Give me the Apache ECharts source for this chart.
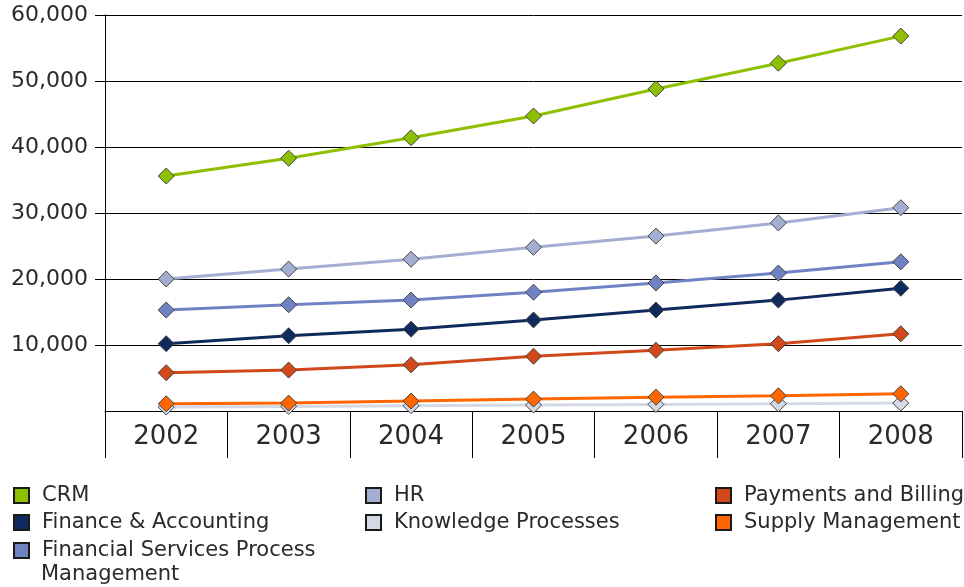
<!DOCTYPE html>
<html><head><meta charset="utf-8">
<script src="https://cdn.jsdelivr.net/npm/echarts@6/dist/echarts.min.js"></script>
<style>html,body{margin:0;padding:0;background:#fff}#c{width:964px;height:587px}</style>
</head><body><div id="c"></div>
<script>
const years = ['2002','2003','2004','2005','2006','2007','2008'];
const yTicks = [0,10000,20000,30000,40000,50000,60000];
const crm = [35600,38300,41400,44700,48800,52700,56800];
const finance = [10200,11400,12400,13800,15300,16800,18600];
const fspm = [15300,16100,16800,18000,19400,20900,22600];
const hr = [20000,21500,23000,24800,26500,28500,30800];
const knowledge = [600,700,800,900,1000,1100,1200];
const payments = [5800,6200,7000,8300,9200,10200,11700];
const supply = [1100,1200,1500,1800,2100,2300,2600];

const seriesDefs = [
  ['CRM', crm, '#8dc000'],
  ['Finance & Accounting', finance, '#0f2a5c'],
  ['Financial Services Process Management', fspm, '#6f83c4'],
  ['HR', hr, '#a4aed2'],
  ['Knowledge Processes', knowledge, '#d4d9e6'],
  ['Payments and Billing', payments, '#d1481a'],
  ['Supply Management', supply, '#ff6600']
];
const font = 'DejaVu Sans';
const txtColor = '#2a2a2a';
const chart = echarts.init(document.getElementById('c'), null, {renderer:'canvas'});
const legendBase = {
  orient:'vertical', icon:'rect', itemWidth:15, itemHeight:15, itemGap:0, padding:0,
  itemStyle:{borderColor:'#1a1a1a', borderWidth:2},
  textStyle:{fontFamily:font, fontSize:21, color:txtColor, lineHeight:27, padding:[0,0,0,8]},
  selectedMode:false
};
chart.setOption({
  animation:false,
  backgroundColor:'#fff',
  grid:{left:105, right:2, top:15, bottom:176},
  xAxis:{type:'category', data:years, boundaryGap:true,
    axisLine:{lineStyle:{color:'#000', width:1}},
    axisTick:{show:true, length:47, lineStyle:{color:'#000', width:1}},
    axisLabel:{fontFamily:font, fontSize:26, color:txtColor, margin:13},
    splitLine:{show:false}
  },
  yAxis:{type:'value', min:0, max:60000, interval:10000,
    axisLine:{show:true, lineStyle:{color:'#000', width:1}},
    axisTick:{show:true, length:10, lineStyle:{color:'#000'}},
    axisLabel:{fontFamily:font, fontSize:22, color:txtColor, margin:17, showMinLabel:false,
      formatter:v => v.toLocaleString('en-US')},
    splitLine:{show:true, lineStyle:{color:'#000', width:1}}
  },
  legend:[
    Object.assign({}, legendBase, {left:13, top:482, data:['CRM','Finance & Accounting']}),
    Object.assign({}, legendBase, {left:13, top:537, data:['Financial Services Process Management'],
      formatter:()=> 'Financial Services Process'}),
    Object.assign({}, legendBase, {left:365, top:482, data:['HR','Knowledge Processes']}),
    Object.assign({}, legendBase, {left:715, top:482, data:['Payments and Billing','Supply Management']})
  ],
  graphic:[{type:'text', left:41, top:564,
    style:{text:'Management', font:'21px "DejaVu Sans"', fill:txtColor}}],
  series: seriesDefs.map(([name, data, color]) => ({
    name, type:'line', data, symbol:'diamond', symbolSize:16,
    lineStyle:{color, width:3},
    itemStyle:{color, borderColor:'#444', borderWidth:1},
    emphasis:{disabled:true}
  }))
});
</script></body></html>
